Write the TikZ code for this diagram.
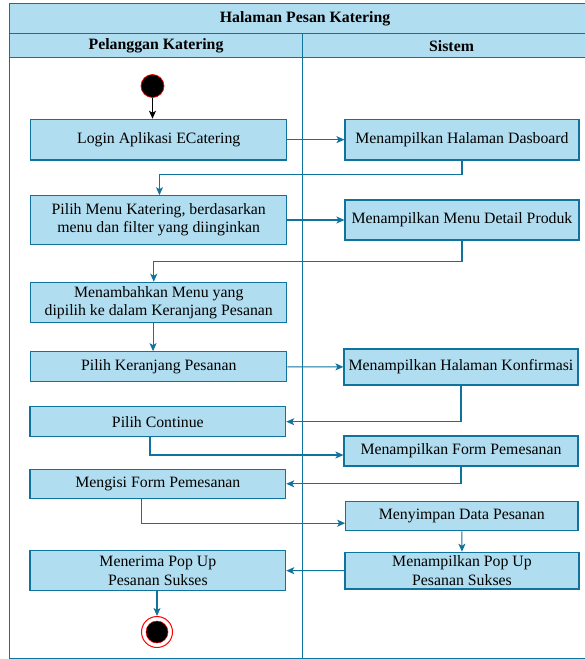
\documentclass[tikz,border=0pt]{standalone}
\usepackage{fontspec}
\setmainfont{Liberation Serif}
\usetikzlibrary{arrows.meta}
\definecolor{fillb}{HTML}{B1DDF0}
\definecolor{strokeb}{HTML}{10739E}
\begin{document}
\begin{tikzpicture}[x=1pt,y=-1pt,
  txt/.style={font=\fontsize{15.8}{18.3}\selectfont},
  box/.style={draw=strokeb, fill=fillb, line width=1.1pt, inner sep=0pt, align=center, txt},
  lane/.style={draw=strokeb, line width=1.1pt, inner sep=0pt, anchor=north west},
  conn/.style={draw=strokeb, line width=1.1pt, -{Stealth[length=8pt,width=7pt,inset=2pt]}},
]
\useasboundingbox (0,0) rectangle (585,659);
\fill[white] (0,0) rectangle (585,659);
\begin{scope}
\clip (0,0) rectangle (585,659);
% frame
\node[lane, fill=fillb, minimum width=591pt, minimum height=30pt, font=\bfseries\fontsize{15.8}{18}\selectfont] (title) at (9,3.3) {Halaman Pesan Katering};
\node[lane, fill=fillb, minimum width=293pt, minimum height=24pt, font=\bfseries\fontsize{15.8}{18}\selectfont] (h1) at (9,33.3) {Pelanggan Katering};
\node[lane, fill=fillb, minimum width=298pt, minimum height=24pt, font=\bfseries\fontsize{15.8}{18}\selectfont] (h2) at (302,33.3) {Sistem};
\node[lane, minimum width=293pt, minimum height=600.7pt] (l1) at (9,57.3) {};
\node[lane, minimum width=298pt, minimum height=600.7pt] (l2) at (302,57.3) {};
\draw[strokeb, line width=1.6pt] (title.north west) -- (title.north east);
\end{scope}

% start / end
\node[circle, fill=black, draw=red, line width=0.7pt, minimum size=23pt, inner sep=0pt] (start) at (152.5,86) {};
\node[circle, fill=white, draw=red, line width=1pt, minimum size=31pt, inner sep=0pt] (endn) at (157,632) {};
\node[circle, fill=black, draw=red, line width=0.5pt, minimum size=22pt, inner sep=0pt] (endin) at (endn) {};

% activities
\node[box, minimum width=256pt, minimum height=40.7pt] (login) at (158.75,139.65) {Login Aplikasi ECatering};
\node[box, minimum width=234pt, minimum height=40.7pt] (dash) at (462,139.65) {Menampilkan Halaman Dasboard};
\node[box, minimum width=256pt, minimum height=48.6pt] (pilihmenu) at (158.75,220) {Pilih Menu Katering, berdasarkan\\menu dan filter yang diinginkan};
\node[box, minimum width=234pt, minimum height=40pt] (detail) at (462,220) {Menampilkan Menu Detail Produk};
\node[box, minimum width=256pt, minimum height=40.4pt] (tambah) at (158.75,302.5) {Menambahkan Menu yang\\dipilih ke dalam Keranjang Pesanan};
\node[box, minimum width=256pt, minimum height=30pt] (keranjang) at (158.75,366.7) {Pilih Keranjang Pesanan};
\node[box, minimum width=234pt, minimum height=36pt] (konfirmasi) at (461,367) {Menampilkan Halaman Konfirmasi};
\node[box, minimum width=255.7pt, minimum height=30pt] (continue) at (157.85,421.7) {Pilih Continue};
\node[box, minimum width=234pt, minimum height=30pt] (form) at (461,451) {Menampilkan Form Pemesanan};
\node[box, minimum width=255.7pt, minimum height=29pt] (mengisi) at (157.85,483.8) {Mengisi Form Pemesanan};
\node[box, minimum width=232.3pt, minimum height=29pt] (menyimpan) at (461.85,516.2) {Menyimpan Data Pesanan};
\node[box, minimum width=234pt, minimum height=36.7pt] (popup) at (462,570.65) {Menampilkan Pop Up\\Pesanan Sukses};
\node[box, minimum width=255.7pt, minimum height=40pt] (menerima) at (157.85,570.7) {Menerima Pop Up\\Pesanan Sukses};

% connectors
\draw[conn, draw=black, line width=1pt] (start) -- (start |- login.north);
\draw[conn] (login) -- (dash);
\draw[conn] (dash.south) -- ++(0,14) -| ([xshift=0.7pt]pilihmenu.north);
\draw[conn] (pilihmenu) -- (detail);
\draw[conn] (detail.south) -- ++(0,21) -| ([xshift=-5pt]tambah.north);
\draw[conn] ([xshift=-5.7pt]tambah.south) -- ([xshift=-5.7pt]keranjang.north);
\draw[conn] (keranjang) -- (konfirmasi);
\draw[conn] (konfirmasi.south) |- (continue.east);
\draw[conn] ([xshift=-7.85pt]continue.south) |- ([yshift=-4pt]form.west);
\draw[conn] (form.south) |- (mengisi.east);
\draw[conn] ([xshift=-16pt]mengisi.south) |- ([yshift=-7pt]menyimpan.west);
\draw[conn] (menyimpan) -- (popup);
\draw[conn] (popup) -- (menerima);
\draw[conn] (menerima.south -| endn) -- (endn);
\end{tikzpicture}
\end{document}
